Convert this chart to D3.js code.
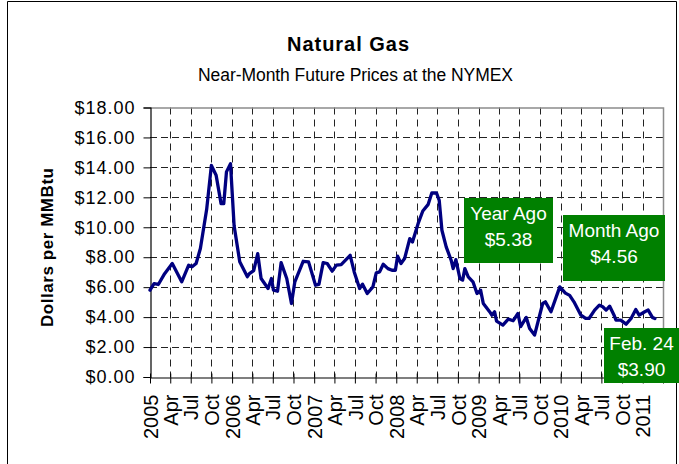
<!DOCTYPE html>
<html>
<head>
<meta charset="utf-8">
<script src="https://cdn.jsdelivr.net/npm/d3@7"></script>
<style>
  html, body { margin: 0; padding: 0; background: #fff; }
  svg { display: block; font-family: "Liberation Sans", Arial, sans-serif; }
</style>
</head>
<body>
<svg id="chart" width="679" height="464"></svg>
<script>
// ---- data ----
const dates = [
  "2005-01-01","2005-01-19","2005-02-07","2005-03-07","2005-04-10","2005-05-22","2005-06-22","2005-07-07",
  "2005-07-25","2005-08-13","2005-09-10","2005-10-01","2005-10-22","2005-11-13","2005-11-25","2005-12-07",
  "2005-12-25","2006-01-10","2006-02-04","2006-03-10","2006-03-19","2006-04-07","2006-04-25","2006-05-10",
  "2006-06-10","2006-06-25","2006-07-04","2006-07-22","2006-08-07","2006-09-01","2006-09-22","2006-10-07",
  "2006-11-13","2006-12-07","2007-01-07","2007-01-22","2007-02-10","2007-02-28","2007-03-22","2007-04-10",
  "2007-05-01","2007-06-10","2007-06-28","2007-07-22","2007-08-04","2007-08-25","2007-09-19","2007-10-04",
  "2007-10-19","2007-11-04","2007-11-25","2007-12-13","2007-12-28","2008-01-07","2008-01-22","2008-02-07",
  "2008-03-01","2008-03-13","2008-04-07","2008-04-28","2008-05-22","2008-06-07","2008-06-28","2008-07-10",
  "2008-07-22","2008-08-10","2008-09-01","2008-09-10","2008-09-22","2008-10-10","2008-10-22","2008-11-01",
  "2008-11-16","2008-12-07","2008-12-25","2009-01-10","2009-01-22","2009-02-19","2009-03-01","2009-03-13",
  "2009-03-22","2009-04-19","2009-05-13","2009-06-04","2009-06-25","2009-07-07","2009-08-01","2009-08-16",
  "2009-09-07","2009-10-13","2009-10-25","2009-11-19","2009-12-28","2010-01-22","2010-02-10","2010-03-01",
  "2010-04-01","2010-04-22","2010-05-07","2010-06-01","2010-06-22","2010-07-07","2010-07-22","2010-08-07",
  "2010-08-28","2010-09-04","2010-09-25","2010-10-19","2010-11-10","2010-12-01","2010-12-16","2011-01-10",
  "2011-01-25","2011-02-13","2011-02-24"
];
const prices = [
  5.80, 6.24, 6.18, 6.90, 7.58, 6.36, 7.47, 7.36,
  7.58, 8.58, 11.20, 14.13, 13.47, 11.58, 11.58, 13.70,
  14.24, 10.10, 7.70, 6.70, 6.90, 7.10, 8.24, 6.58,
  5.91, 6.58, 5.80, 5.73, 7.64, 6.58, 4.91, 6.36,
  7.73, 7.69, 6.13, 6.18, 7.64, 7.58, 7.07, 7.47,
  7.51, 8.13, 7.02, 5.91, 6.20, 5.58, 6.02, 6.96,
  7.02, 7.53, 7.24, 7.13, 7.13, 8.07, 7.58, 7.91,
  9.24, 9.02, 10.24, 11.09, 11.53, 12.29, 12.29, 11.80,
  9.80, 8.69, 7.80, 7.24, 7.84, 6.58, 6.47, 7.24,
  6.69, 6.36, 5.58, 5.80, 4.91, 4.36, 4.13, 4.36,
  3.73, 3.47, 3.87, 3.76, 4.24, 3.36, 3.98, 3.24,
  2.80, 4.91, 5.02, 4.36, 6.02, 5.60, 5.45, 5.02,
  4.13, 3.91, 3.91, 4.47, 4.80, 4.69, 4.47, 4.73,
  4.07, 3.80, 3.80, 3.53, 3.91, 4.51, 4.13, 4.36,
  4.47, 3.98, 3.90
];
const yTickValues = [0, 2, 4, 6, 8, 10, 12, 14, 16, 18];
const xTickDates = d3.timeMonth.range(new Date(2005, 0, 1), new Date(2011, 3, 2), 3);
const monthLabels = ["Jan","Feb","Mar","Apr","May","Jun","Jul","Aug","Sep","Oct","Nov","Dec"];
const annoTitles = ["Year Ago", "Month Ago", "Feb. 24"];
const annoValues = ["$5.38", "$4.56", "$3.90"];

const titleText = "Natural Gas";
const subtitleText = "Near-Month Future Prices at the NYMEX";
const yAxisTitle = "Dollars per MMBtu";

// ---- layout ----
const svg = d3.select("#chart");
const plot = { left: 150, right: 663, top: 107.5, bottom: 377 };
const parse = d3.timeParse("%Y-%m-%d");
const series = dates.map((d, i) => ({ date: parse(d), value: prices[i] }));

const x = d3.scaleTime()
  .domain([new Date(2005, 0, 1), new Date(2011, 3, 1)])
  .range([plot.left, plot.right]);
const y = d3.scaleLinear().domain([0, 18]).range([plot.bottom, plot.top]);

// outer frame
svg.append("path")
  .attr("d", "M7.5,464 V1.5 H676.5 V464")
  .attr("fill", "none").attr("stroke", "#000").attr("stroke-width", 1);

// titles
svg.append("text").text(titleText)
  .attr("x", 348).attr("y", 50.5).attr("text-anchor", "middle")
  .attr("font-size", 20).attr("font-weight", "bold")
  .attr("textLength", 122).attr("lengthAdjust", "spacing");
svg.append("text").text(subtitleText)
  .attr("x", 355.5).attr("y", 80.5).attr("text-anchor", "middle")
  .attr("font-size", 17.5)
  .attr("textLength", 315).attr("lengthAdjust", "spacing");

// y-axis title
svg.append("text").text(yAxisTitle)
  .attr("transform", "translate(53,247.5) rotate(-90)")
  .attr("text-anchor", "middle").attr("font-size", 17).attr("font-weight", "bold")
  .attr("textLength", 159).attr("lengthAdjust", "spacing");

// gridlines
const grid = svg.append("g");
grid.selectAll("line.h").data(yTickValues.filter(v => v > 0 && v < 18)).join("line")
  .attr("x1", plot.left).attr("x2", plot.right)
  .attr("y1", d => Math.round(y(d)) + 0.5).attr("y2", d => Math.round(y(d)) + 0.5)
  .attr("stroke", "#222").attr("stroke-width", 1).attr("stroke-dasharray", "7,4");
grid.selectAll("line.v").data(xTickDates.filter(d => x(d) > plot.left + 1 && x(d) < plot.right - 1)).join("line")
  .attr("x1", d => Math.round(x(d)) + 0.5).attr("x2", d => Math.round(x(d)) + 0.5)
  .attr("y1", plot.top).attr("y2", plot.bottom)
  .attr("stroke", "#222").attr("stroke-width", 1).attr("stroke-dasharray", "7,5");

// plot border (top & right grey)
svg.append("path")
  .attr("d", `M${plot.left},${plot.top + 0.5} H${plot.right + 0.5} V${plot.bottom}`)
  .attr("fill", "none").attr("stroke", "#8c8c8c").attr("stroke-width", 1.5);

// y axis
const yAxis = svg.append("g").attr("transform", `translate(${plot.left + 0.5},0)`)
  .call(d3.axisLeft(y).tickValues(yTickValues).tickSize(7).tickPadding(8)
    .tickFormat(d => "$" + d.toFixed(2)));
yAxis.select(".domain").attr("stroke", "#000").attr("stroke-width", 1.2);
yAxis.selectAll(".tick line").attr("stroke", "#000");
yAxis.selectAll(".tick text")
  .attr("font-size", 18).attr("font-family", "'Liberation Sans', Arial, sans-serif")
  .attr("letter-spacing", 1).attr("fill", "#000").attr("x", -15);

// x axis
const xAxis = svg.append("g").attr("transform", `translate(0,${plot.bottom + 0.5})`)
  .call(d3.axisBottom(x).tickValues(xTickDates).tickSizeInner(6).tickSizeOuter(0)
    .tickFormat(d => d > new Date(2011, 0, 2) ? "" :
      (d.getMonth() === 0 ? String(d.getFullYear()) : monthLabels[d.getMonth()])));
xAxis.select(".domain").attr("stroke", "#000").attr("stroke-width", 1.2);
xAxis.selectAll(".tick line").attr("stroke", "#000").attr("y1", -4).attr("y2", 6);
xAxis.selectAll(".tick text")
  .attr("font-size", 20).attr("font-family", "'Liberation Sans', Arial, sans-serif")
  .attr("fill", "#000")
  .attr("text-anchor", "end")
  .attr("transform", "rotate(-90)")
  .attr("x", -17).attr("y", 0).attr("dy", "0.36em");

// price line
const line = d3.line().x(d => x(d.date)).y(d => y(d.value)).curve(d3.curveLinear);
svg.append("path").datum(series)
  .attr("d", line)
  .attr("fill", "none").attr("stroke", "#000080").attr("stroke-width", 3.3)
  .attr("stroke-linejoin", "round").attr("stroke-linecap", "round");

// annotation boxes
const boxes = [
  { x0: 464, x1: 553, y0: 198, y1: 263 },
  { x0: 563, x1: 665, y0: 215, y1: 281 },
  { x0: 604, x1: 679, y0: 328, y1: 383 }
];
const ann = svg.append("g");
boxes.forEach((b, i) => {
  ann.append("rect").attr("x", b.x0).attr("y", b.y0)
    .attr("width", b.x1 - b.x0).attr("height", b.y1 - b.y0).attr("fill", "#008000");
  const cx = (b.x0 + b.x1) / 2;
  ann.append("text").text(annoTitles[i])
    .attr("x", cx).attr("y", b.y0 + 22).attr("text-anchor", "middle")
    .attr("font-size", 19).attr("fill", "#fff");
  ann.append("text").text(annoValues[i])
    .attr("x", cx).attr("y", b.y0 + 47.5).attr("text-anchor", "middle")
    .attr("font-size", 19).attr("fill", "#fff");
});
</script>
</body>
</html>
